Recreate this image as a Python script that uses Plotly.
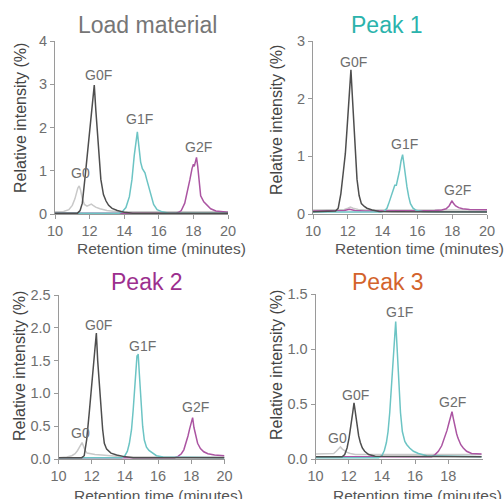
import plotly.graph_objects as go

# ---------------- data ----------------
# Panel 1: Load material
p1_g0_t = [10, 10.5, 10.8, 11.0, 11.15, 11.25, 11.32, 11.4, 11.48, 11.58, 11.7, 11.85, 12.0, 12.1, 12.2, 12.35, 12.6, 13.0, 13.5, 14, 16, 18, 20]
p1_g0_v = [0.05, 0.06, 0.1, 0.2, 0.35, 0.5, 0.6, 0.65, 0.55, 0.35, 0.22, 0.18, 0.2, 0.23, 0.2, 0.16, 0.12, 0.08, 0.06, 0.05, 0.05, 0.05, 0.05]
p1_g0f_t = [10, 11.3, 11.45, 11.58, 11.75, 11.9, 12.05, 12.18, 12.27, 12.36, 12.5, 12.65, 12.8, 12.95, 13.1, 13.3, 13.6, 14.0, 14.5, 20]
p1_g0f_v = [0.02, 0.02, 0.08, 0.25, 0.9, 1.5, 2.1, 2.6, 2.98, 2.4, 1.5, 0.8, 0.45, 0.3, 0.2, 0.13, 0.08, 0.04, 0.02, 0.02]
p1_g1f_t = [10, 13.7, 13.9, 14.1, 14.3, 14.45, 14.58, 14.68, 14.76, 14.84, 14.95, 15.05, 15.2, 15.3, 15.4, 15.55, 15.7, 15.9, 16.2, 16.6, 20]
p1_g1f_v = [0.02, 0.02, 0.06, 0.15, 0.4, 0.8, 1.35, 1.7, 1.9, 1.6, 1.2, 1.05, 0.95, 0.8, 0.65, 0.38, 0.22, 0.1, 0.05, 0.02, 0.02]
p1_g2f_t = [10, 17.0, 17.15, 17.3, 17.5, 17.65, 17.8, 17.92, 18.0, 18.05, 18.1, 18.18, 18.25, 18.33, 18.42, 18.6, 18.8, 19.0, 19.3, 19.6, 20]
p1_g2f_v = [0.02, 0.02, 0.04, 0.08, 0.25, 0.5, 0.8, 1.05, 1.15, 1.1, 1.18, 1.31, 1.1, 0.7, 0.42, 0.28, 0.2, 0.12, 0.07, 0.05, 0.04]

# Panel 2: Peak 1
p2_g0_t = [10, 11.8, 12.0, 12.15, 12.3, 12.6, 13, 20]
p2_g0_v = [0.07, 0.08, 0.1, 0.12, 0.1, 0.08, 0.07, 0.07]
p2_g0f_t = [10, 11.3, 11.45, 11.6, 11.75, 11.86, 11.95, 12.05, 12.12, 12.18, 12.26, 12.34, 12.44, 12.53, 12.65, 12.78, 12.95, 13.1, 13.4, 13.8, 14.5, 20]
p2_g0f_v = [0.04, 0.05, 0.1, 0.35, 0.75, 1.05, 1.45, 1.92, 2.25, 2.5, 2.05, 1.63, 1.05, 0.6, 0.32, 0.18, 0.13, 0.1, 0.07, 0.045, 0.04, 0.035]
p2_g1f_t = [10, 13.9, 14.1, 14.25, 14.35, 14.48, 14.58, 14.7, 14.79, 14.84, 14.9, 14.98, 15.06, 15.15, 15.22, 15.3, 15.4, 15.5, 15.6, 15.75, 15.95, 16.3, 17, 20]
p2_g1f_v = [0.035, 0.035, 0.05, 0.1, 0.18, 0.3, 0.42, 0.5, 0.5, 0.56, 0.62, 0.76, 0.92, 1.03, 0.88, 0.68, 0.47, 0.3, 0.18, 0.1, 0.06, 0.045, 0.04, 0.04]
p2_g2f_t = [10, 11.8, 12.1, 12.4, 13, 16, 17.0, 17.4, 17.65, 17.82, 17.92, 17.99, 18.08, 18.2, 18.37, 18.6, 19, 20]
p2_g2f_v = [0.05, 0.06, 0.08, 0.06, 0.05, 0.05, 0.06, 0.07, 0.09, 0.14, 0.19, 0.23, 0.18, 0.14, 0.11, 0.09, 0.08, 0.075]

# Panel 3: Peak 2
p3_g0_t = [10, 10.5, 10.8, 11.0, 11.15, 11.28, 11.36, 11.42, 11.5, 11.6, 11.72, 11.9, 12.2, 12.6, 13.0, 13.5, 14, 20]
p3_g0_v = [0.02, 0.03, 0.05, 0.08, 0.13, 0.19, 0.23, 0.25, 0.2, 0.13, 0.09, 0.08, 0.07, 0.06, 0.05, 0.035, 0.03, 0.03]
p3_g0f_t = [10, 11.4, 11.55, 11.7, 11.85, 12.0, 12.12, 12.22, 12.28, 12.36, 12.46, 12.56, 12.66, 12.76, 12.9, 13.16, 13.5, 13.9, 14.5, 20]
p3_g0f_v = [0.02, 0.02, 0.05, 0.3, 0.7, 1.1, 1.45, 1.75, 1.92, 1.5, 1.1, 0.75, 0.45, 0.24, 0.15, 0.09, 0.06, 0.04, 0.02, 0.02]
p3_g1f_t = [10, 13.8, 14.0, 14.15, 14.27, 14.4, 14.5, 14.6, 14.68, 14.73, 14.76, 14.8, 14.87, 14.97, 15.07, 15.17, 15.3, 15.45, 15.6, 15.9, 16.3, 20]
p3_g1f_v = [0.02, 0.02, 0.05, 0.12, 0.24, 0.45, 0.75, 1.1, 1.45, 1.58, 1.56, 1.6, 1.3, 0.85, 0.5, 0.29, 0.18, 0.13, 0.1, 0.05, 0.03, 0.02]
p3_g2f_t = [10, 17.0, 17.2, 17.4, 17.55, 17.68, 17.8, 17.9, 18.0, 18.08, 18.16, 18.26, 18.38, 18.55, 18.75, 19.0, 19.4, 20]
p3_g2f_v = [0.02, 0.02, 0.04, 0.08, 0.14, 0.24, 0.35, 0.46, 0.56, 0.63, 0.48, 0.35, 0.24, 0.16, 0.11, 0.08, 0.06, 0.05]

# Panel 4: Peak 3
p4_g0_t = [10, 10.9, 11.1, 11.25, 11.38, 11.5, 11.62, 11.75, 11.9, 12.1, 12.4, 20]
p4_g0_v = [0.045, 0.045, 0.05, 0.07, 0.09, 0.11, 0.09, 0.075, 0.06, 0.05, 0.04, 0.04]
p4_g0f_t = [10, 11.6, 11.76, 11.9, 12.02, 12.14, 12.24, 12.32, 12.4, 12.5, 12.6, 12.7, 12.82, 12.96, 13.2, 13.6, 20]
p4_g0f_v = [0.02, 0.02, 0.04, 0.1, 0.19, 0.3, 0.42, 0.51, 0.42, 0.3, 0.21, 0.15, 0.1, 0.07, 0.04, 0.025, 0.02]
p4_g1f_t = [10, 13.8, 14.0, 14.15, 14.27, 14.37, 14.47, 14.56, 14.63, 14.7, 14.77, 14.83, 14.9, 14.96, 15.03, 15.12, 15.23, 15.38, 15.5, 15.67, 15.9, 16.2, 16.7, 20]
p4_g1f_v = [0.012, 0.012, 0.03, 0.08, 0.15, 0.25, 0.42, 0.62, 0.79, 0.98, 1.15, 1.25, 1.05, 0.85, 0.64, 0.42, 0.25, 0.16, 0.13, 0.1, 0.07, 0.05, 0.03, 0.02]
p4_g2f_t = [10, 17.0, 17.2, 17.4, 17.6, 17.78, 17.92, 18.04, 18.14, 18.22, 18.3, 18.4, 18.5, 18.58, 18.75, 18.9, 19.1, 19.4, 20]
p4_g2f_v = [0.02, 0.02, 0.04, 0.07, 0.12, 0.19, 0.26, 0.33, 0.39, 0.43, 0.37, 0.29, 0.23, 0.19, 0.13, 0.1, 0.07, 0.05, 0.045]

panel_titles = ["Load material", "Peak 1", "Peak 2", "Peak 3"]
peak_names = ["G0", "G0F", "G1F", "G2F"]

# label anchor positions (time, intensity) for peak names, per panel
p1_label_t = [11.45, 12.49, 14.91, 18.27]
p1_label_v = [0.95, 3.21, 2.2, 1.55]
p2_label_t = [None, 12.34, 15.23, 18.28]
p2_label_v = [None, 2.63, 1.22, 0.42]
p3_label_t = [11.3, 12.4, 15.07, 18.28]
p3_label_v = [0.4, 2.05, 1.72, 0.79]
p4_label_t = [11.31, 12.42, 15.04, 18.23]
p4_label_v = [0.195, 0.58, 1.34, 0.52]

# ---------------- styles ----------------
FONT = "Liberation Sans, Arial, sans-serif"
C_G0 = "#c9c9c9"
C_G0F = "#4e4e4e"
C_G1F = "#6cc4c4"
C_G2F = "#ab55a2"
TEXT_GRAY = "#6e6e6e"
AX_GRAY = "#9a9a9a"
title_colors = ["#767676", "#2bb3ac", "#9c2f8e", "#d3632c"]

W, H = 504, 499

panels = [
    dict(data=[(p1_g0_t, p1_g0_v), (p1_g0f_t, p1_g0f_v), (p1_g1f_t, p1_g1f_v), (p1_g2f_t, p1_g2f_v)],
         lt=p1_label_t, lv=p1_label_v,
         xpx=(55, 228), ypx=(41, 214), xr=[10, 20], xt=[10, 12, 14, 16, 18, 20],
         yr=[0, 4], yt=[0, 1, 2, 3, 4], yfmt="d",
         title_c=(147.3, 25), ytitle_c=(20, 118), xtitle_c=(161, 249)),
    dict(data=[(p2_g0_t, p2_g0_v), (p2_g0f_t, p2_g0f_v), (p2_g1f_t, p2_g1f_v), (p2_g2f_t, p2_g2f_v)],
         lt=p2_label_t, lv=p2_label_v,
         xpx=(313, 487), ypx=(41, 214), xr=[10, 20], xt=[10, 12, 14, 16, 18, 20],
         yr=[0, 3], yt=[0, 1, 2, 3], yfmt="d",
         title_c=(387, 25), ytitle_c=(276, 120), xtitle_c=(419, 249)),
    dict(data=[(p3_g0_t, p3_g0_v), (p3_g0f_t, p3_g0f_v), (p3_g1f_t, p3_g1f_v), (p3_g2f_t, p3_g2f_v)],
         lt=p3_label_t, lv=p3_label_v,
         xpx=(58.5, 224.5), ypx=(295, 459), xr=[10, 20], xt=[10, 12, 14, 16, 18, 20],
         yr=[0, 2.5], yt=[0, 0.5, 1.0, 1.5, 2.0, 2.5], yfmt=".1f",
         title_c=(146.7, 282), ytitle_c=(19, 366), xtitle_c=(158, 495)),
    dict(data=[(p4_g0_t, p4_g0_v), (p4_g0f_t, p4_g0f_v), (p4_g1f_t, p4_g1f_v), (p4_g2f_t, p4_g2f_v)],
         lt=p4_label_t, lv=p4_label_v,
         xpx=(315.5, 483.2), ypx=(294, 459), xr=[10, 20.1], xt=[10, 12, 14, 16, 18],
         yr=[0, 1.5], yt=[0, 0.5, 1.0, 1.5], yfmt=".1f",
         title_c=(387.5, 282), ytitle_c=(276, 365), xtitle_c=(417, 495)),
]

colors = [C_G0, C_G0F, C_G1F, C_G2F]
draw_order = [0, 3, 2, 1]

fig = go.Figure()
layout = dict(width=W, height=H, margin=dict(l=0, r=0, t=0, b=0, pad=0), autosize=False,
              template="none",
              paper_bgcolor="white", plot_bgcolor="white", showlegend=False,
              font=dict(family=FONT, color=TEXT_GRAY))
annotations = []

for i, p in enumerate(panels):
    n = "" if i == 0 else str(i + 1)
    xa, ya = "x" + n, "y" + n
    for k in draw_order:
        t, v = p["data"][k]
        fig.add_trace(go.Scatter(x=t, y=v, mode="lines", xaxis=xa, yaxis=ya,
                                 line=dict(color=colors[k], width=1.5),
                                 hoverinfo="skip"))
    x0, x1 = p["xpx"]
    y0, y1 = p["ypx"]
    layout["xaxis" + n] = dict(domain=[x0 / W, x1 / W], anchor=ya, range=p["xr"],
                               tickvals=p["xt"], showgrid=False, zeroline=False,
                               automargin=False,
                               showline=True, linecolor=AX_GRAY, linewidth=1,
                               ticks="outside", ticklen=4, tickcolor=AX_GRAY,
                               tickfont=dict(size=14.5, color=TEXT_GRAY))
    layout["yaxis" + n] = dict(domain=[1 - y1 / H, 1 - y0 / H], anchor=xa, range=p["yr"],
                               tickvals=p["yt"], tickformat=p["yfmt"], showgrid=False,
                               automargin=False,
                               zeroline=False, showline=True, linecolor=AX_GRAY, linewidth=1,
                               ticks="outside", ticklen=4, tickcolor=AX_GRAY,
                               tickfont=dict(size=14.5, color=TEXT_GRAY))
    # panel title
    tx, ty = p["title_c"]
    annotations.append(dict(text=panel_titles[i], x=tx / W, y=1 - ty / H, xref="paper", yref="paper",
                            xanchor="center", yanchor="middle", showarrow=False,
                            font=dict(size=23, color=title_colors[i], family=FONT)))
    # axis titles
    yx, yy = p["ytitle_c"]
    annotations.append(dict(text="Relative intensity (%)", x=yx / W, y=1 - yy / H, xref="paper",
                            yref="paper", xanchor="center", yanchor="middle", textangle=-90,
                            showarrow=False, font=dict(size=16, color="#444444", family=FONT)))
    xx, xy = p["xtitle_c"]
    annotations.append(dict(text="Retention time (minutes)", x=xx / W, y=1 - xy / H, xref="paper",
                            yref="paper", xanchor="center", yanchor="middle",
                            showarrow=False, font=dict(size=15.5, color="#555555", family=FONT)))
    # peak labels
    for k in range(4):
        if p["lt"][k] is None:
            continue
        annotations.append(dict(text=peak_names[k], x=p["lt"][k], y=p["lv"][k], xref=xa, yref=ya,
                                xanchor="center", yanchor="middle", showarrow=False,
                                font=dict(size=14, color=TEXT_GRAY, family=FONT)))

layout["annotations"] = annotations
fig.update_layout(**layout)
fig.write_html("out.html", config={"displayModeBar": False},
               post_script="document.body.style.margin='0';document.body.style.padding='0';")
